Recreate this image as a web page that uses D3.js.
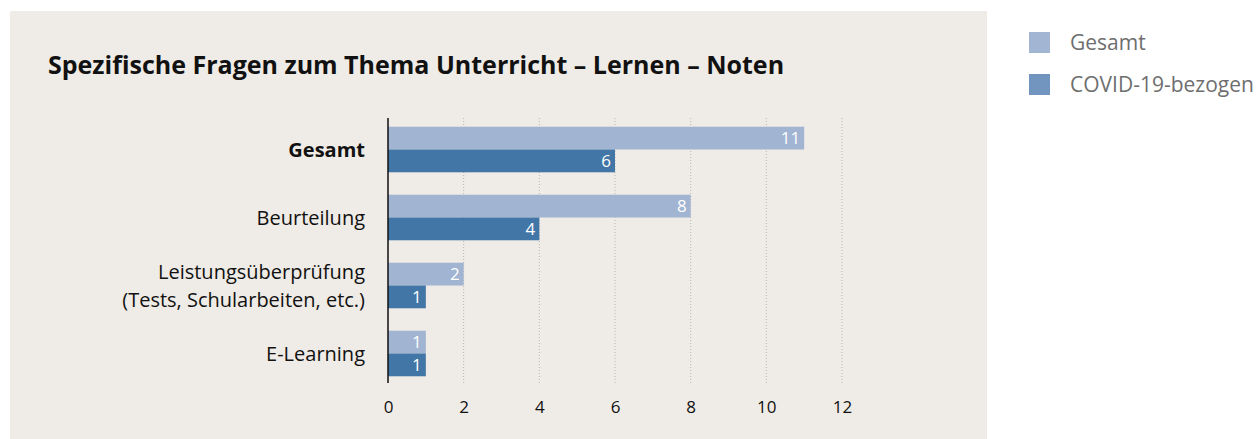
<!DOCTYPE html>
<html>
<head>
<meta charset="utf-8">
<script src="https://cdn.jsdelivr.net/npm/d3@7"></script>
<style>
  body { margin: 0; background: #fff; font-family: "Open Sans", sans-serif; }
</style>
</head>
<body>
<svg id="graph"></svg>
<script>
// data
const categories = ['Gesamt', 'Beurteilung', 'Leistungsüberprüfung\n(Tests, Schularbeiten, etc.)', 'E-Learning'];
const series = ['Gesamt', 'COVID-19-bezogen'];
const gesamtValues = [11, 8, 2, 1];
const covidValues = [6, 4, 1, 1];
const xTicks = [0, 2, 4, 6, 8, 10, 12];

const barColors = ['#a1b4d2', '#4276a6'];
const legendColors = ['#a2b5d3', '#7195be'];

const width = 1258;
const height = 439;

const graph = d3.select('#graph')
  .attr('width', width)
  .attr('height', height);

// panel
graph.append('rect')
  .attr('x', 10).attr('y', 11)
  .attr('width', 977).attr('height', 428)
  .attr('fill', '#efebe6');

// title
graph.append('text')
  .attr('x', 48).attr('y', 74)
  .style('font-size', '25px')
  .style('font-weight', 700)
  .style('fill', '#111')
  .text('Spezifische Fragen zum Thema Unterricht – Lernen – Noten');

// scales
const x_scale = d3.scaleLinear().domain([0, 12]).range([388, 842]);
const y_scale = d3.scaleBand().domain(categories).range([115.5, 387.5])
  .paddingInner(0.33).paddingOuter(0.165);
const sub_scale = d3.scaleBand().domain(series).range([0, y_scale.bandwidth()]);

// grid
graph.append('g')
  .selectAll('line')
  .data(xTicks.slice(1))
  .join('line')
  .attr('x1', d => x_scale(d)).attr('x2', d => x_scale(d))
  .attr('y1', 118).attr('y2', 383)
  .attr('stroke', '#b8b5b0')
  .attr('stroke-width', 1)
  .attr('stroke-dasharray', '1,2');

// bars
const rows = categories.map((c, i) => ({ cat: c, values: [gesamtValues[i], covidValues[i]] }));

const groups = graph.append('g')
  .selectAll('g')
  .data(rows)
  .join('g')
  .attr('transform', d => `translate(0,${y_scale(d.cat)})`);

const bars = groups.selectAll('g')
  .data(d => d.values.map((v, j) => ({ s: series[j], v: v, j: j })))
  .join('g');

bars.append('rect')
  .attr('x', x_scale(0))
  .attr('y', d => sub_scale(d.s))
  .attr('width', d => x_scale(d.v) - x_scale(0))
  .attr('height', sub_scale.bandwidth())
  .attr('fill', d => barColors[d.j]);

bars.append('text')
  .attr('x', d => x_scale(d.v) - 4)
  .attr('y', d => sub_scale(d.s) + sub_scale.bandwidth() / 2)
  .attr('dy', '0.36em')
  .attr('text-anchor', 'end')
  .style('font-size', '17px')
  .style('fill', '#fff')
  .text(d => d.v);

// category labels
const labels = graph.append('g')
  .selectAll('text')
  .data(categories)
  .join('text')
  .attr('x', 365)
  .attr('text-anchor', 'end')
  .style('font-size', '20px')
  .style('fill', '#111')
  .style('font-weight', (d, i) => i === 0 ? 700 : 400);

labels.each(function (d) {
  const lines = d.split('\n');
  const cy = y_scale(d) + y_scale.bandwidth() / 2;
  const lh = 28;
  d3.select(this).selectAll('tspan')
    .data(lines)
    .join('tspan')
    .attr('x', 365)
    .attr('y', (l, k) => cy + (k - (lines.length - 1) / 2) * lh)
    .attr('dy', '0.35em')
    .text(l => l);
});

// x axis
const x_axis = d3.axisBottom(x_scale).tickValues(xTicks).tickSize(0).tickPadding(0);
const xg = graph.append('g')
  .attr('transform', 'translate(0,401)')
  .call(x_axis);
xg.select('.domain').remove();
xg.selectAll('text')
  .style('font-family', '"Open Sans", sans-serif')
  .style('font-size', '17px')
  .style('fill', '#111');

// y axis line
graph.append('line')
  .attr('x1', x_scale(0)).attr('x2', x_scale(0))
  .attr('y1', 118).attr('y2', 383)
  .attr('stroke', '#111')
  .attr('stroke-width', 1.5);

// legend
const legend = graph.append('g')
  .selectAll('g')
  .data(series)
  .join('g')
  .attr('transform', (d, i) => `translate(1029,${32 + i * 42})`);

legend.append('rect')
  .attr('width', 21).attr('height', 21)
  .attr('fill', (d, i) => legendColors[i]);

legend.append('text')
  .attr('x', 41).attr('y', 10.5)
  .attr('dy', '0.35em')
  .style('font-size', '21px')
  .style('fill', '#6e6e6e')
  .text(d => d);
</script>
</body>
</html>
